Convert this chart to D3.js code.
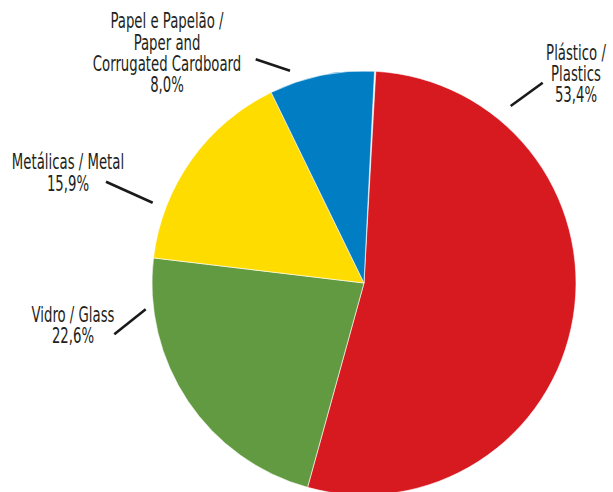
<!DOCTYPE html>
<html><head><meta charset="utf-8">
<script src="https://cdn.jsdelivr.net/npm/d3@7/dist/d3.min.js"></script>
<style>
html,body{margin:0;padding:0;background:#fff;}
text{font-family:"DejaVu Sans Condensed","DejaVu Sans",sans-serif;fill:#231f20;}
</style></head>
<body><svg id="c" width="613" height="492"></svg>
<script>
const categories = ["Plástico / Plastics", "Vidro / Glass", "Metálicas / Metal", "Papel e Papelão / Paper and Corrugated Cardboard"];
const values = [53.4, 22.6, 15.9, 8.0];
const labelLines = [
  ["Plástico /", "Plastics", "53,4%"],
  ["Vidro / Glass", "22,6%"],
  ["Metálicas / Metal", "15,9%"],
  ["Papel e Papelão /", "Paper and", "Corrugated Cardboard", "8,0%"]
];
const colors = ["#d71920", "#629a41", "#ffdc00", "#007dc3"];

// layout (not data)
const cx = 364, cy = 283, R = 212;
const startDeg = 3.2;
const labelLayout = [
  {x: 576, y: 60, line: [[510.7,106],[542.7,82.7]]},
  {x: 73, y: 321.7, line: [[114.3,334.3],[145.7,309.3]]},
  {x: 68, y: 169.3, line: [[106,181.7],[152.7,202.7]]},
  {x: 167, y: 28.3, line: [[255.7,59.3],[290,70.7]]}
];
const sx = 0.72, lh = 21.2;

const svg = d3.select("#c");
const a0 = startDeg * Math.PI / 180;
const pie = d3.pie().sort(null).value(d => d).startAngle(a0).endAngle(a0 + 2*Math.PI * d3.sum(values)/100);
const arc = d3.arc().innerRadius(0).outerRadius(R);
const g = svg.append("g").attr("transform", `translate(${cx},${cy})`);
g.selectAll("path").data(pie(values)).join("path")
  .attr("d", arc).attr("fill", (d,i) => colors[i])
  .attr("stroke", "#fff").attr("stroke-width", 0.6);

const lab = svg.append("g");
labelLayout.forEach((L, i) => {
  lab.append("line")
    .attr("x1", L.line[0][0]).attr("y1", L.line[0][1])
    .attr("x2", L.line[1][0]).attr("y2", L.line[1][1])
    .attr("stroke", "#1a1a1a").attr("stroke-width", 2.6);
  labelLines[i].forEach((s, k) => {
    lab.append("text").attr("text-anchor", "middle").attr("font-size", 20.5)
      .attr("transform", `translate(${L.x},${L.y + k*lh}) scale(${sx},1)`)
      .text(s);
  });
});
</script></body></html>
